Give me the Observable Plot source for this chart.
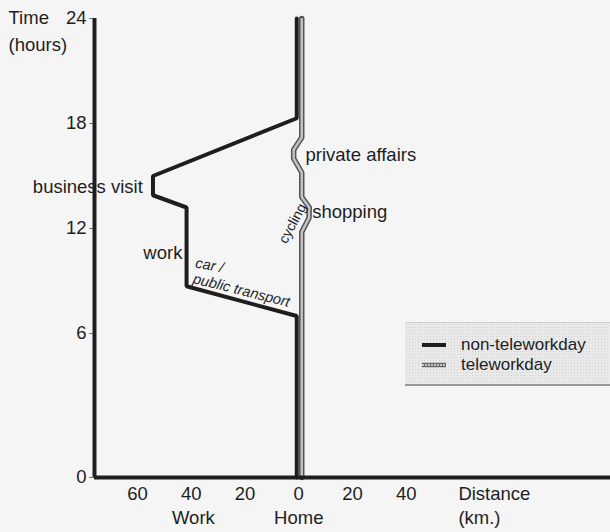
<!DOCTYPE html>
<html>
<head>
<meta charset="utf-8">
<script src="https://cdn.jsdelivr.net/npm/d3@7"></script>
<script src="https://cdn.jsdelivr.net/npm/@observablehq/plot@0.6"></script>
<style>
  html, body { margin: 0; padding: 0; background: #f5f5f5; }
  #wrap { position: relative; width: 610px; height: 532px; font-family: "Liberation Sans", Arial, sans-serif; color: #222; }
  #legend { position: absolute; left: 405px; top: 322px; width: 205px; height: 64px;
    background-color: #e9e9e9;
    background-image: radial-gradient(#d2d2d2 0.8px, transparent 0.9px);
    background-size: 3px 3px;
    border-top: 1px solid #cfcfcf; border-bottom: 2px solid #9a9a9a; box-sizing: border-box; }
  .row { position: absolute; left: 17px; height: 18px; line-height: 18px; display: flex; align-items: center; font-size: 17px; }
  .row svg { margin-right: 15px; }
</style>
</head>
<body>
<div id="wrap"></div>
<script>
// ---- data ----
const hourTicks = [0, 6, 12, 18, 24];
const distanceTicks = [-60, -40, -20, 0, 20, 40];
const distanceDomain = [-76, 116];

// non-teleworkday trajectory (negative distance = towards work)
const nonTeleDist = [0, 0, -41, -41, -53.5, -53.5, 0, 0];
const nonTeleTime = [0, 7.0, 8.7, 13.2, 13.9, 15.0, 18.3, 24];

// teleworkday trajectory
const teleDist = [0, 0, 2.7, 2.8, 0, 0, -3, -3, 0, 0];
const teleTime = [0, 11.8, 12.6, 13.2, 13.8, 15.2, 16.0, 16.5, 17.2, 24];

// activity labels
const placeLabels = ["business visit", "work", "private affairs", "shopping"];
const placeDist = [-58, -43.3, 2.5, 5.0];
const placeTime = [14.34, 10.57, 16.17, 12.93];

// travel-mode labels
const modeLabels = ["car /", "public transport", "cycling"];
const modeDist = [-33.2, -21.3, -2.3];
const modeTime = [9.89, 8.46, 12.29];

const seriesNames = ["non-teleworkday", "teleworkday"];

// ---- build ----
const nonTele = nonTeleDist.map((d, i) => ({x: d, t: nonTeleTime[i]}));
const tele = teleDist.map((d, i) => ({x: d, t: teleTime[i]}));
const places = placeLabels.map((s, i) => ({s, x: placeDist[i], t: placeTime[i]}));
const modes = modeLabels.map((s, i) => ({s, x: modeDist[i], t: modeTime[i]}));

// the original drawing stretches the 0–6 h interval (24 px/h vs 17.5 px/h above 6 h)
const stretch = 24 / 17.5;
const timeWarp = t => (t >= 6 ? t : 6 - (6 - t) * stretch);
const timeUnwarp = u => (u >= 6 ? u : 6 - (6 - u) / stretch);

const ink = "#1e1e1e";
const fs = 18.5;
const chart = Plot.plot({
  width: 610,
  height: 532,
  marginLeft: 94,
  marginRight: 0,
  marginTop: 18,
  marginBottom: 55,
  style: {fontFamily: "'Liberation Sans', Arial, sans-serif", fontSize: fs + "px", color: ink, background: "transparent", overflow: "visible"},
  x: {domain: distanceDomain},
  y: {transform: timeWarp, domain: [timeWarp(0), 24]},
  marks: [
    Plot.axisY({ticks: hourTicks.map(timeWarp), tickFormat: u => Math.round(timeUnwarp(u)), tickSize: 5, tickPadding: 3, label: null, fontSize: fs, stroke: "#777"}),
    Plot.axisX({ticks: distanceTicks, tickFormat: d => Math.abs(d), tickSize: 0, tickPadding: 9, label: null, fontSize: fs}),
    // teleworkday (hatched grey)
    Plot.line(tele, {x: "x", y: "t", stroke: "#555", strokeWidth: 5.5, dx: 3}),
    Plot.line(tele, {x: "x", y: "t", stroke: "#c4c4c4", strokeWidth: 2.5, strokeDasharray: "2,1", dx: 3}),
    // non-teleworkday
    Plot.line(nonTele, {x: "x", y: "t", stroke: ink, strokeWidth: 4, strokeLinejoin: "miter", dx: -2}),
    // axis lines
    Plot.ruleX([distanceDomain[0]], {y1: 0, y2: 24, stroke: ink, strokeWidth: 4}),
    Plot.ruleY([0], {stroke: ink, strokeWidth: 4}),
    // labels
    Plot.text(places.filter(p => p.x < 0), {x: "x", y: "t", text: "s", textAnchor: "end", fill: ink, fontSize: fs}),
    Plot.text(places.filter(p => p.x > 0), {x: "x", y: "t", text: "s", textAnchor: "start", fill: ink, fontSize: fs}),
    Plot.text([modes[0]], {x: "x", y: "t", text: "s", rotate: 10, fontStyle: "italic", fontSize: 14.5, fill: ink}),
    Plot.text([modes[1]], {x: "x", y: "t", text: "s", rotate: 14, fontStyle: "italic", fontSize: 14.5, fill: ink}),
    Plot.text([modes[2]], {x: "x", y: "t", text: "s", rotate: -62, fontSize: 14, fill: ink}),
    Plot.text(["Time"], {x: [-108], y: [24], text: d => d, textAnchor: "start", fontSize: fs, fill: ink}),
    Plot.text(["(hours)"], {x: [-108], y: [22.5], text: d => d, textAnchor: "start", fontSize: fs, fill: ink}),
    Plot.text(["Work", "Home"], {x: [-39.2, 0], frameAnchor: "bottom", dy: 46, text: d => d, fontSize: fs, fill: ink}),
    Plot.text(["Distance"], {x: [59.4], frameAnchor: "bottom", dy: 22, text: d => d, textAnchor: "start", fontSize: fs, fill: ink}),
    Plot.text(["(km.)"], {x: [59.4], frameAnchor: "bottom", dy: 46, text: d => d, textAnchor: "start", fontSize: fs, fill: ink})
  ]
});
const wrap = document.getElementById("wrap");
wrap.appendChild(chart);

// legend
const legend = document.createElement("div");
legend.id = "legend";
seriesNames.forEach((name, i) => {
  const row = document.createElement("div");
  row.className = "row";
  row.style.top = (13 + i * 20) + "px";
  const swatch = i === 0
    ? `<svg width="24" height="8"><line x1="0" y1="4" x2="24" y2="4" stroke="${ink}" stroke-width="4"/></svg>`
    : `<svg width="24" height="8"><line x1="0" y1="4" x2="24" y2="4" stroke="#666" stroke-width="4.5"/><line x1="0" y1="4" x2="24" y2="4" stroke="#c4c4c4" stroke-width="2" stroke-dasharray="2,1"/></svg>`;
  row.innerHTML = swatch + `<span>${name}</span>`;
  legend.appendChild(row);
});
wrap.appendChild(legend);
</script>
</body>
</html>
